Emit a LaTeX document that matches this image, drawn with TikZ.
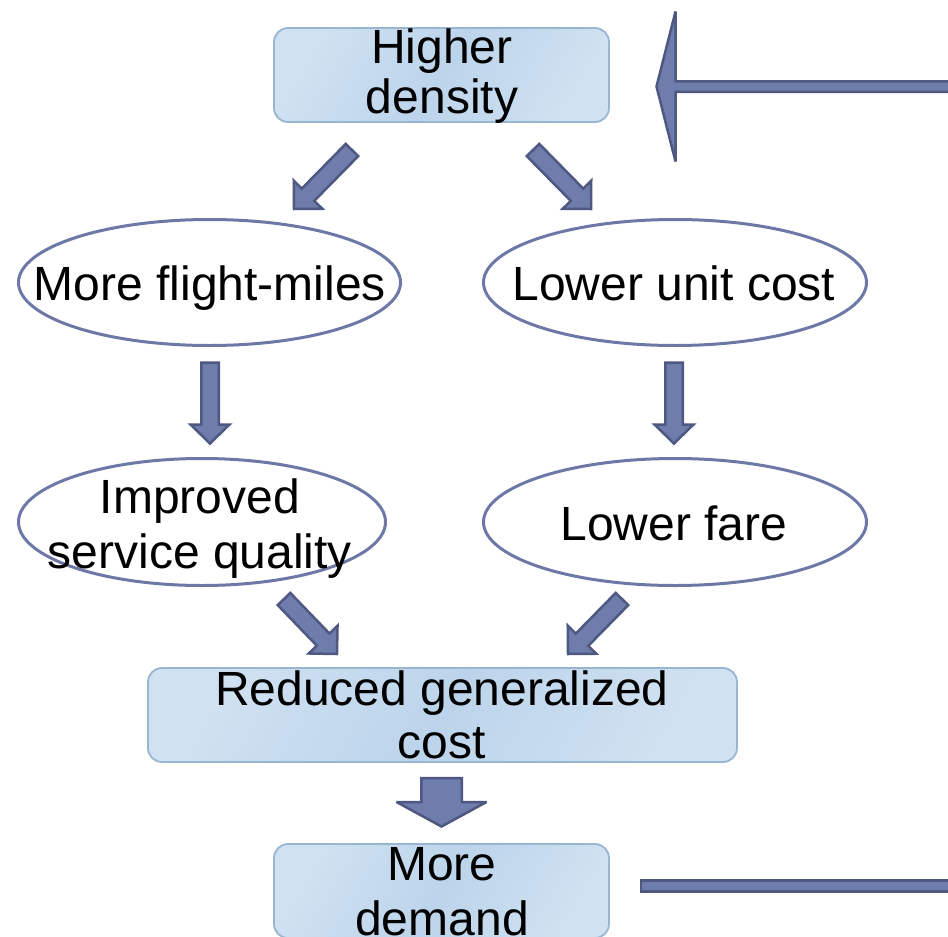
\documentclass[tikz,border=0pt]{standalone}
\usepackage{fontspec}
\setmainfont{Liberation Sans}
\usetikzlibrary{calc,shapes.geometric}

\definecolor{arrowfill}{HTML}{6E7DAB}
\definecolor{arrowline}{HTML}{4E5880}
\definecolor{ovalline}{HTML}{6D78A6}
\definecolor{boxline}{HTML}{98B5D2}
\definecolor{boxlight}{HTML}{D0E1F1}
\definecolor{boxmid}{HTML}{BCD4EB}

\tikzset{
  box/.style={draw=boxline, line width=1.8pt, rounded corners=14pt,
    shading=axis, left color=boxlight, right color=boxlight,
    middle color=boxmid, shading angle=60, inner sep=0pt},
  oval/.style={ellipse, draw=ovalline, line width=3pt, fill=white, inner sep=0pt},
  lbl/.style={inner sep=0pt, align=center, font=\fontsize{48}{53}\selectfont},
  lblwide/.style={lbl, font=\fontsize{48}{55}\selectfont},
  lblnarrow/.style={lbl, font=\fontsize{48}{50}\selectfont},
  fatarrow/.style={fill=arrowfill, draw=arrowline, line width=2.5pt,
    line join=miter, miter limit=3},
}

% block arrow: #1 tail, #2 tip, #3 shaft half width, #4 head half width, #5 head length
\newcommand\blockarrow[5]{%
  \path ($(#2)!#5!(#1)$) coordinate (ba-h);
  \draw[fatarrow] ($(#1)!#3!90:(#2)$) -- ($(ba-h)!#3!-90:(#1)$)
    -- ($(ba-h)!#4!-90:(#1)$) -- (#2) -- ($(ba-h)!#4!90:(#1)$)
    -- ($(ba-h)!#3!90:(#1)$) -- ($(#1)!#3!-90:(#2)$) -- cycle;}
% flat bar: #1 start, #2 end, #3 half width
\newcommand\blockbar[3]{%
  \draw[fatarrow] ($(#1)!#3!90:(#2)$) -- ($(#2)!#3!-90:(#1)$)
    -- ($(#2)!#3!90:(#1)$) -- ($(#1)!#3!-90:(#2)$) -- cycle;}

\begin{document}
\begin{tikzpicture}[x=1pt, y=-1pt]
  \useasboundingbox (0,0) rectangle (948,937);
  \clip (0,0) rectangle (948,937);

  % boxes
  \node[box, minimum width=335pt, minimum height=94pt] (dens) at (441.5,75) {};
  \node[box, minimum width=589pt, minimum height=94pt] (gcost) at (442.5,715) {};
  \node[box, minimum width=335pt, minimum height=94pt] (dem) at (441.5,891) {};

  % ovals
  \node[oval, minimum width=382pt, minimum height=126pt] (miles) at (209.5,282.5) {};
  \node[oval, minimum width=383pt, minimum height=126pt] (unit) at (675,282.5) {};
  \node[oval, minimum width=367pt, minimum height=127pt] (qual) at (202,522) {};
  \node[oval, minimum width=383pt, minimum height=127pt] (fare) at (675,522) {};

  % arrow end points
  \coordinate (a1s) at (352,150);   \coordinate (a1e) at (294,209);
  \coordinate (a2s) at (533,150);   \coordinate (a2e) at (591,209);
  \coordinate (a3s) at (210,362.5); \coordinate (a3e) at (210,443.5);
  \coordinate (a4s) at (674,362.5); \coordinate (a4e) at (674,443.5);
  \coordinate (a5s) at (284,599);   \coordinate (a5e) at (337,654);
  \coordinate (a6s) at (622,599);   \coordinate (a6e) at (568,654);
  \coordinate (a7s) at (441.5,778); \coordinate (a7e) at (441.5,826.5);
  \coordinate (fbs) at (960,86.5);  \coordinate (fbe) at (656.5,86.5);
  \coordinate (lps) at (641,886);   \coordinate (lpe) at (960,886);

  \blockarrow{a1s}{a1e}{8.75pt}{20pt}{20pt}
  \blockarrow{a2s}{a2e}{8.75pt}{20pt}{20pt}
  \blockarrow{a3s}{a3e}{8.75pt}{19.5pt}{19pt}
  \blockarrow{a4s}{a4e}{8.75pt}{19.5pt}{19pt}
  \blockarrow{a5s}{a5e}{8.75pt}{20pt}{20pt}
  \blockarrow{a6s}{a6e}{8.75pt}{20pt}{20pt}
  \blockarrow{a7s}{a7e}{20.25pt}{45pt}{24.5pt}
  \blockarrow{fbs}{fbe}{5.25pt}{75pt}{19pt}
  \blockbar{lps}{lpe}{5.5pt}

  % texts
  \node[lblnarrow] (dens-t) at (442,78) {\strut Higher\\\strut density};
  \node[lbl] (miles-t) at (210,289.4) {\strut More flight-miles};
  \node[lbl] (unit-t) at (674,289.4) {\strut Lower unit cost};
  \node[lblwide] (qual-t) at (200,529.5) {\strut Improved\\\strut service quality};
  \node[lbl] (fare-t) at (674,529.4) {\strut Lower fare};
  \node[lbl] (gcost-t) at (442,720.9) {\strut Reduced generalized\\\strut cost};
  \node[lblwide] (dem-t) at (442,896.5) {\strut More\\\strut demand};
\end{tikzpicture}
\end{document}
